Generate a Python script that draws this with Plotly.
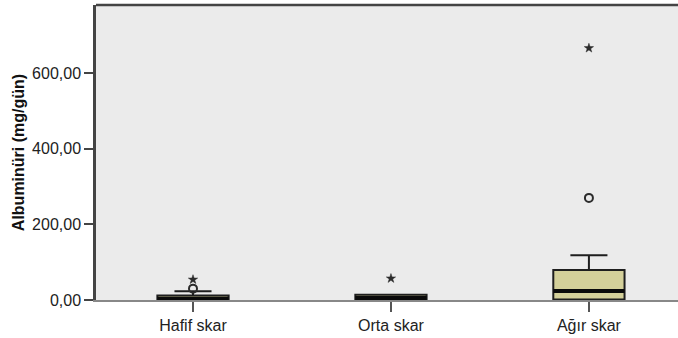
import plotly.graph_objects as go

# Albuminuria by scar severity (box summaries + flagged outliers)
groups = ["Hafif skar", "Orta skar", "Ağır skar"]
q1 = [0, 0, 1]
median = [3, 5, 24]
q3 = [12, 14, 79]
lower_fence = [0, 0, 0]
upper_fence = [23, 14, 118]

# outliers: circles (mild) and stars (extreme)
mild_group = [0, 2]
mild_value = [30, 270]
extreme_group = [0, 1, 2]
extreme_value = [54, 57, 666]

y_ticks = [0, 200, 400, 600]

FONT = "Liberation Sans, Arial, sans-serif"
BOX_FILL = "#D4D09A"
INK = "#2b2b2b"
BOX_W = 0.36

fig = go.Figure()

pos = list(range(len(groups)))
for i in pos:
    fig.add_trace(go.Box(
        x=[i], q1=[q1[i]], median=[median[i]], q3=[q3[i]],
        lowerfence=[lower_fence[i]], upperfence=[upper_fence[i]],
        width=BOX_W, whiskerwidth=0.52, boxpoints=False,
        fillcolor=BOX_FILL, line=dict(color="#1e1e1e", width=2),
        showlegend=False, hoverinfo="skip",
    ))
    # thick median bar
    fig.add_trace(go.Scatter(
        x=[i - BOX_W / 2, i + BOX_W / 2], y=[median[i], median[i]],
        mode="lines", line=dict(color="#0a0a0a", width=4),
        showlegend=False, hoverinfo="skip",
    ))

fig.add_trace(go.Scatter(
    x=mild_group, y=mild_value, mode="markers",
    marker=dict(symbol="circle-open", size=8, color=INK, line=dict(width=2, color=INK)),
    showlegend=False, hoverinfo="skip",
))
fig.add_trace(go.Scatter(
    x=extreme_group, y=extreme_value, mode="markers",
    marker=dict(symbol="star", size=7, color=INK, line=dict(width=0.5, color=INK)),
    showlegend=False, hoverinfo="skip",
))

# frame: top edge of the plot region
fig.add_shape(type="line", xref="paper", yref="paper", x0=0, x1=1, y0=1, y1=1,
              line=dict(color="#444444", width=2.5))

fig.update_layout(
    width=678, height=338,
    margin=dict(l=96, r=0, t=5, b=38),
    paper_bgcolor="white", plot_bgcolor="#EBEBEB",
    separators=",.",
    font=dict(family=FONT, size=16, color="#222222"),
    xaxis=dict(
        range=[-0.49, 2.45], tickmode="array", tickvals=pos, ticktext=groups,
        showgrid=False, zeroline=False, showline=True, linecolor="#888888", linewidth=1.5,
        ticks="outside", ticklen=10, tickcolor="#555555", tickwidth=1.5,
        tickfont=dict(size=16, family=FONT, color="#222222"),
    ),
    yaxis=dict(
        range=[0, 780], tickmode="array", tickvals=y_ticks, tickformat=".2f",
        showgrid=False, zeroline=False, showline=True, linecolor="#444444", linewidth=2.5,
        ticks="outside", ticklen=9, tickcolor="#444444", tickwidth=1.5,
        tickfont=dict(size=16, family=FONT, color="#222222"),
        title=dict(text="<b>Albuminüri (mg/gün)</b>", font=dict(size=16, family=FONT, color="#111111"),
                   standoff=4),
    ),
)

fig.write_html("out.html")
